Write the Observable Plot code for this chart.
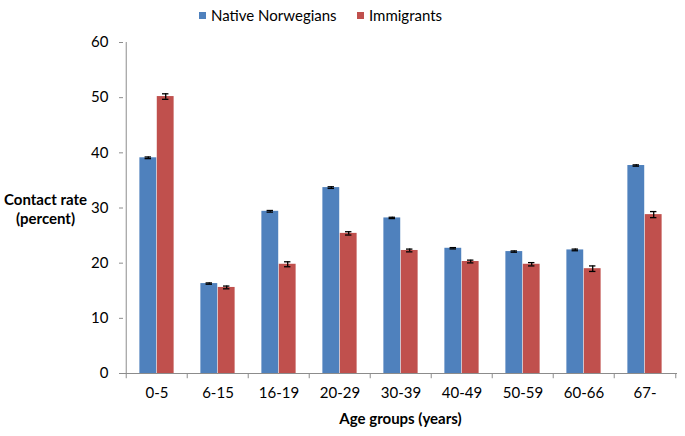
<!DOCTYPE html>
<html>
<head>
<meta charset="utf-8">
<script src="https://cdn.jsdelivr.net/npm/d3@7"></script>
<script src="https://cdn.jsdelivr.net/npm/@observablehq/plot@0.6"></script>
<style>
  body { margin: 0; background: #fff; font-family: Lato, "Open Sans", sans-serif; }
  #wrap { position: relative; width: 685px; height: 436px; }
  #legend { position: relative; height: 30px; font-size: 15px; color: #000; }
  .item { position: absolute; top: 6px; display: flex; align-items: center; white-space: nowrap; }
  .sw { width: 7px; height: 7px; margin-right: 5px; }
</style>
</head>
<body>
<div id="wrap">
  <div id="legend"></div>
  <div id="chart"></div>
</div>
<script>
const ages = ["0-5", "6-15", "16-19", "20-29", "30-39", "40-49", "50-59", "60-66", "67-"];
const seriesNames = ["Native Norwegians", "Immigrants"];
const nativeValues = [39.1, 16.3, 29.4, 33.7, 28.2, 22.7, 22.1, 22.4, 37.7];
const nativeErrors = [0.15, 0.12, 0.15, 0.15, 0.12, 0.12, 0.12, 0.15, 0.12];
const immigrantValues = [50.2, 15.6, 19.8, 25.4, 22.3, 20.3, 19.8, 19.0, 28.8];
const immigrantErrors = [0.5, 0.25, 0.45, 0.3, 0.25, 0.25, 0.3, 0.5, 0.55];
const yTicks = [0, 10, 20, 30, 40, 50, 60];
const colors = ["#4F81BD", "#C0504D"];
const yTitle = "Contact rate\n(percent)";
const xTitle = "Age groups (years)";

// legend
const legendPos = [199, 357];
const legend = document.getElementById("legend");
seriesNames.forEach((name, i) => {
  const it = document.createElement("div");
  it.className = "item";
  it.style.left = legendPos[i] + "px";
  it.innerHTML = `<span class="sw" style="background:${colors[i]}"></span><span>${name}</span>`;
  legend.appendChild(it);
});

const W = 685, H = 406, ML = 123, MR = 8, MT = 12, MB = 63;
const step = (W - ML - MR) / ages.length;
const barW = 17.4;
const pad = (step - 2 * barW) / 2;
const capW = 7;

const nat = ages.map((a, i) => ({age: a, v: nativeValues[i], e: nativeErrors[i]}));
const imm = ages.map((a, i) => ({age: a, v: immigrantValues[i], e: immigrantErrors[i]}));

const gray = "#8c8c8c";

function errorMarks(data, k) {
  const center = pad + barW * k + barW / 2; // offset from band start
  return [
    Plot.ruleX(data, {x: "age", y1: d => d.v - d.e, y2: d => d.v + d.e, dx: center - step / 2, stroke: "#000", strokeWidth: 1.3}),
    Plot.tickY(data, {x: "age", y: d => d.v - d.e, insetLeft: center - capW / 2, insetRight: step - center - capW / 2, stroke: "#000", strokeWidth: 1.3}),
    Plot.tickY(data, {x: "age", y: d => d.v + d.e, insetLeft: center - capW / 2, insetRight: step - center - capW / 2, stroke: "#000", strokeWidth: 1.3})
  ];
}

const chart = Plot.plot({
  width: W,
  height: H,
  marginLeft: ML,
  marginRight: MR,
  marginTop: MT,
  marginBottom: MB,
  style: {fontFamily: "Lato, 'Open Sans', sans-serif", fontSize: "15px", color: "#000", background: "#fff"},
  x: {domain: ages, padding: 0, axis: null},
  y: {domain: [0, 60], axis: null},
  marks: [
    // bars
    Plot.barY(nat, {x: "age", y: "v", fill: colors[0], insetLeft: pad, insetRight: step - pad - barW}),
    Plot.barY(imm, {x: "age", y: "v", fill: colors[1], insetLeft: pad + barW, insetRight: pad}),
    ...errorMarks(nat, 0),
    ...errorMarks(imm, 1),
    // axes
    Plot.ruleY([0], {stroke: gray}),
    Plot.ruleX([ages[0]], {y1: 0, y2: 60, dx: -step / 2, stroke: gray}),
    Plot.ruleX(ages, {y1: 0, y2: -0.95, dx: -step / 2, stroke: gray}),
    Plot.ruleX([ages[ages.length - 1]], {y1: 0, y2: -0.95, dx: step / 2, stroke: gray}),
    Plot.axisY({ticks: yTicks, tickSize: 4, tickPadding: 11, stroke: gray, fontSize: 15, label: null, anchor: "left"}),
    Plot.axisX({tickSize: 0, tickPadding: 14, fontSize: 15, label: null}),
    // titles
    Plot.text([yTitle], {frameAnchor: "left", dx: -78, textAnchor: "middle", fontWeight: "bold", fontSize: 15, lineHeight: 1.3}),
    Plot.text([xTitle], {frameAnchor: "bottom", dy: 50, textAnchor: "middle", fontWeight: "bold", fontSize: 15})
  ]
});
document.getElementById("chart").appendChild(chart);
</script>
</body>
</html>
